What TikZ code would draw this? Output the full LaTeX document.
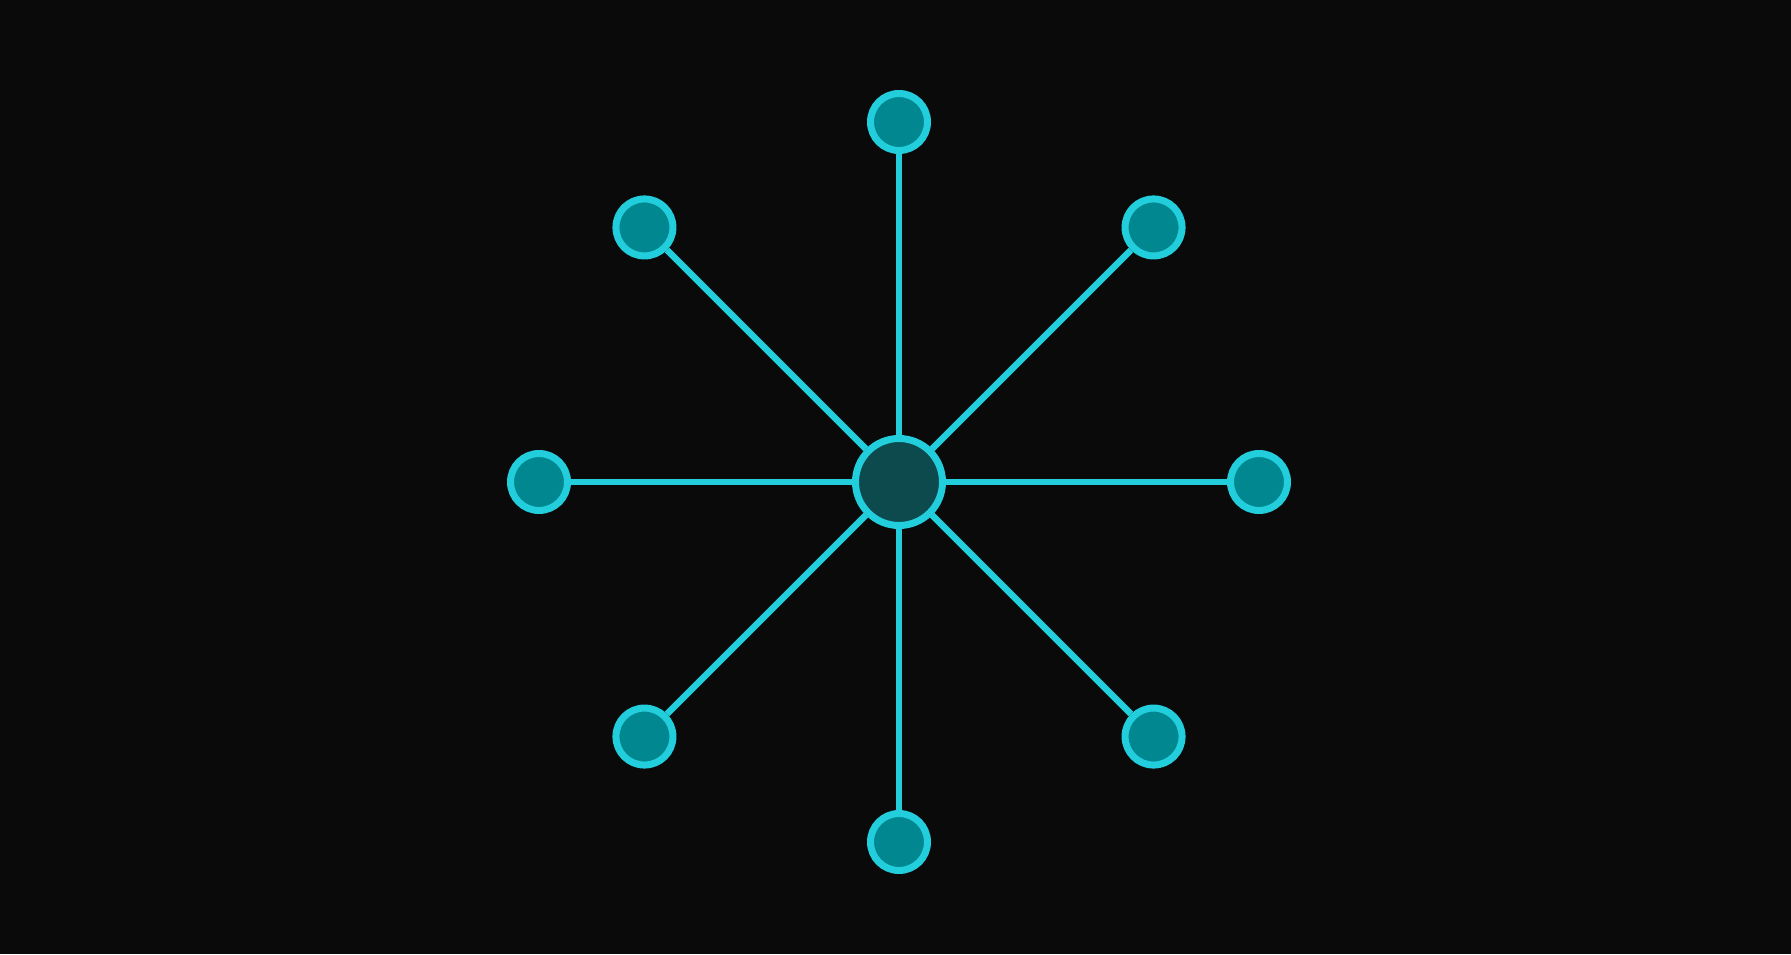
\documentclass[tikz,border=0pt]{standalone}
\usetikzlibrary{calc}
\begin{document}
\begin{tikzpicture}[x=1pt,y=1pt,
  spoke/.style={draw=cyanline,line width=6.5pt},
  leaf/.style={circle,draw=cyanline,fill=leaffill,line width=7pt,minimum size=57pt,inner sep=0pt},
  hub/.style={circle,draw=cyanline,fill=hubfill,line width=7pt,minimum size=87pt,inner sep=0pt}]
\definecolor{bg}{HTML}{0A0A0A}
\definecolor{cyanline}{HTML}{22CEDC}
\definecolor{leaffill}{HTML}{00878F}
\definecolor{hubfill}{HTML}{0C4A4E}
\fill[bg] (0,0) rectangle (1791,954);
\useasboundingbox (0,0) rectangle (1791,954);
\coordinate (c) at (899,472);
\node[leaf] (n) at ($(c)+(90:360)$) {};
\node[leaf] (ne) at ($(c)+(45:360)$) {};
\node[leaf] (e) at ($(c)+(0:360)$) {};
\node[leaf] (se) at ($(c)+(-45:360)$) {};
\node[leaf] (s) at ($(c)+(-90:360)$) {};
\node[leaf] (sw) at ($(c)+(-135:360)$) {};
\node[leaf] (w) at ($(c)+(180:360)$) {};
\node[leaf] (nw) at ($(c)+(135:360)$) {};
\node[hub] (h) at (c) {};
\foreach \t in {n,ne,e,se,s,sw,w,nw}{
  \draw[spoke] (h) -- (\t);
}
\end{tikzpicture}
\end{document}
